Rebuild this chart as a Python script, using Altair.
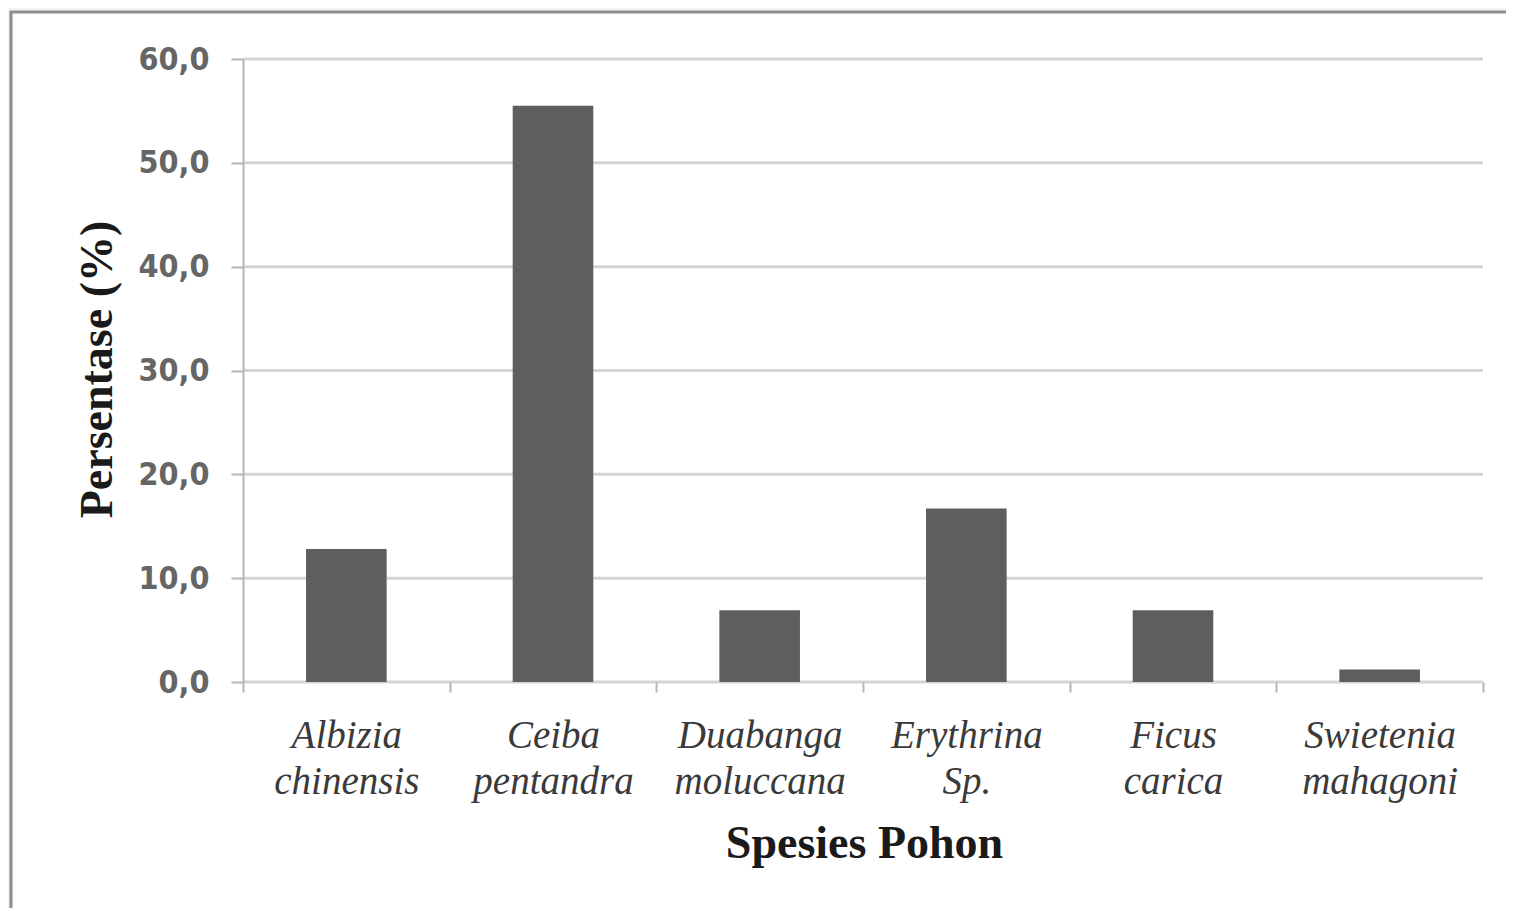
import altair as alt
import pandas as pd

species = ["Albizia chinensis", "Ceiba pentandra", "Duabanga moluccana",
           "Erythrina Sp.", "Ficus carica", "Swietenia mahagoni"]
persen = [12.8, 55.5, 6.9, 16.7, 6.9, 1.2]
y_ticks = [0, 10, 20, 30, 40, 50, 60]

df = pd.DataFrame({"species": species, "persen": persen})
grid_df = pd.DataFrame({"persen": y_ticks})
frame_df = pd.DataFrame({"a": [0]})

yscale = alt.Scale(domain=[0, 60], nice=False)
yaxis = alt.Axis(
    title="Persentase (%)",
    values=y_ticks,
    labelExpr="replace(format(datum.value, '.1f'), '.', ',')",
    labelFont="DejaVu Sans Condensed", labelFontSize=32, labelFontWeight="bold",
    labelColor="#666666", labelPadding=22,
    tickSize=12, tickColor="#b5b5b5", tickWidth=2,
    domainColor="#b5b5b5", domainWidth=2, grid=False,
    titleFont="Liberation Serif", titleFontWeight="bold",
    titleFontSize=46, titleColor="#1a1a1a",
    titleBaseline="alphabetic", titleX=-132, titleY=310,
    titleAngle=270,
    zindex=1)

frame = alt.Chart(frame_df).mark_rect(
    fill="white", stroke="#8c8c8c", strokeWidth=3
).encode(
    x=alt.value(-232), x2=alt.value(1300),
    y=alt.value(-47), y2=alt.value(856)
)

grid = alt.Chart(grid_df).mark_rule(color="#d4d4d4", strokeWidth=3).encode(
    y=alt.Y("persen:Q", scale=yscale, axis=yaxis)
)

bars = alt.Chart(df).mark_bar(
    color="#5e5e5e", width=alt.RelativeBandSize(0.39)
).encode(
    x=alt.X("species:N", sort=species,
            scale=alt.Scale(paddingInner=0, paddingOuter=0),
            axis=alt.Axis(
                title="Spesies Pohon",
                labelExpr="split(datum.label, ' ')",
                labelAngle=0,
                labelFont="Liberation Serif", labelFontStyle="italic",
                labelFontSize=39, labelColor="#3a3a3a",
                labelLineHeight=46, labelBaseline="top",
                labelPadding=24, tickSize=10, tickColor="#b5b5b5",
                tickWidth=2, tickBand="extent", domain=False, grid=False,
                titleFont="Liberation Serif", titleFontWeight="bold",
                titleFontSize=46, titleColor="#1a1a1a",
                titleBaseline="alphabetic", titleY=175, titleX=621,
                zindex=1)),
    y=alt.Y("persen:Q", scale=yscale, axis=yaxis)
)

chart = alt.layer(frame, grid, bars).properties(
    width=1240, height=623,
    autosize=alt.AutoSizeParams(type="none"),
    padding={"left": 235, "top": 51, "right": 23, "bottom": 226},
    background="#f3f3f3"
).configure_view(stroke=None)

chart.save("out.html", embed_options={"renderer": "svg", "actions": False})
